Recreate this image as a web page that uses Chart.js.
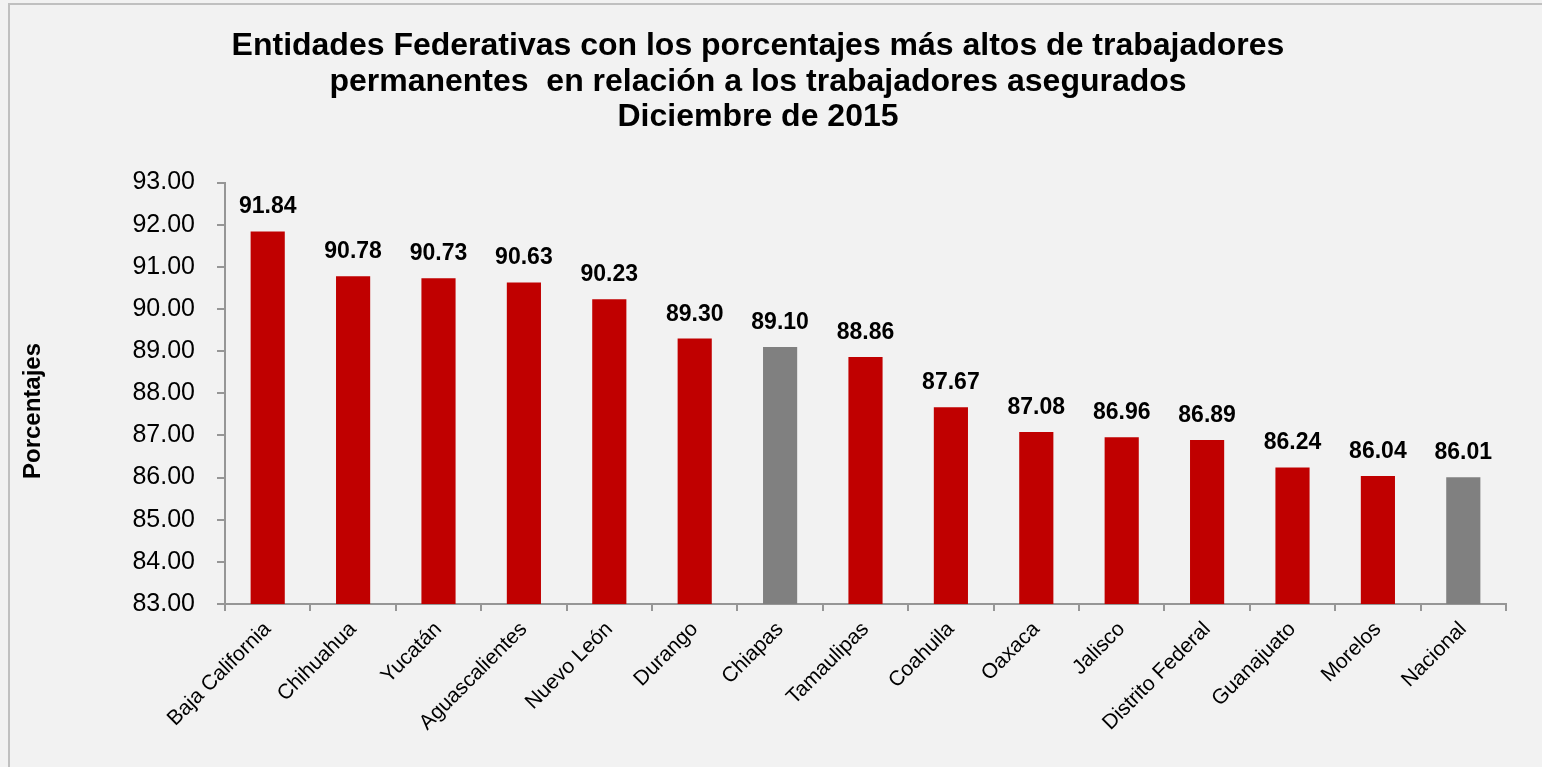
<!DOCTYPE html>
<html>
<head>
<meta charset="utf-8">
<script src="https://cdn.jsdelivr.net/npm/chart.js@4/dist/chart.umd.min.js"></script>
<style>
html,body{margin:0;padding:0;background:#f2f2f2;}
#wrap{position:relative;width:1542px;height:767px;}
</style>
</head>
<body>
<div id="wrap"><canvas id="c" width="1542" height="767"></canvas></div>
<script>
const categories = ["Baja California","Chihuahua","Yucatán","Aguascalientes","Nuevo León","Durango","Chiapas","Tamaulipas","Coahuila","Oaxaca","Jalisco","Distrito Federal","Guanajuato","Morelos","Nacional"];
const values = [91.84,90.78,90.73,90.63,90.23,89.30,89.10,88.86,87.67,87.08,86.96,86.89,86.24,86.04,86.01];
const highlighted = ["Chiapas","Nacional"];
const titleLines = ["Entidades Federativas con los porcentajes más altos de trabajadores","permanentes  en relación a los trabajadores asegurados","Diciembre de 2015"];
const yAxisTitle = "Porcentajes";
const yMin = 83, yMax = 93, yStep = 1;

const RED = "#C00000", GRAY = "#808080";
const barColors = categories.map(c => highlighted.includes(c) ? GRAY : RED);
const FONT = "'Liberation Sans', Arial, sans-serif";

const bgPlugin = {
  id: 'bg',
  beforeDraw(chart) {
    const ctx = chart.ctx;
    ctx.save();
    ctx.fillStyle = '#f2f2f2';
    ctx.fillRect(0, 0, chart.width, chart.height);
    ctx.fillStyle = '#c0c0c0';
    ctx.fillRect(8, 3, chart.width - 8, 2);
    ctx.fillRect(8, 3, 2, chart.height - 3);
    ctx.restore();
  }
};

const labelPlugin = {
  id: 'vals',
  afterDatasetsDraw(chart) {
    const ctx = chart.ctx;
    const meta = chart.getDatasetMeta(0);
    ctx.save();
    ctx.font = "bold 23px " + FONT;
    ctx.fillStyle = '#000';
    ctx.textAlign = 'center';
    ctx.textBaseline = 'alphabetic';
    meta.data.forEach((bar, i) => {
      ctx.fillText(values[i].toFixed(2), bar.x, bar.y - 18);
    });
    // y axis title
    ctx.font = "bold 24px " + FONT;
    ctx.textBaseline = 'middle';
    ctx.translate(33, 411);
    ctx.rotate(-Math.PI / 2);
    ctx.fillText(yAxisTitle, 0, 0);
    ctx.restore();
  }
};

new Chart(document.getElementById('c'), {
  type: 'bar',
  data: {
    labels: categories,
    datasets: [{
      data: values,
      backgroundColor: barColors,
      borderWidth: 0,
      barPercentage: 0.4,
      categoryPercentage: 1.0
    }]
  },
  options: {
    responsive: false,
    animation: false,
    devicePixelRatio: 1,
    layout: { padding: { left: 10, right: 36, top: 20, bottom: 0 } },
    plugins: {
      legend: { display: false },
      tooltip: { enabled: false },
      title: {
        display: true,
        text: titleLines,
        color: '#000',
        font: { family: FONT, size: 32, weight: 'bold', lineHeight: 1.1 },
        padding: { top: 9, bottom: 48 }
      }
    },
    scales: {
      x: {
        afterFit(scale) { scale.height = 163; },
        grid: { display: true, drawOnChartArea: false, drawTicks: true, tickLength: 7, color: '#969696', lineWidth: 2, offset: true },
        border: { display: true, color: '#969696', width: 2 },
        ticks: {
          color: '#000',
          font: { family: FONT, size: 21 },
          maxRotation: 45, minRotation: 45,
          autoSkip: false,
          padding: 6
        }
      },
      y: {
        min: yMin, max: yMax,
        afterFit(scale) { scale.width = 215; },
        grid: { display: true, drawOnChartArea: false, drawTicks: true, tickLength: 8, color: '#969696', lineWidth: 2 },
        border: { display: true, color: '#969696', width: 2 },
        ticks: {
          stepSize: yStep,
          color: '#000',
          font: { family: FONT, size: 25 },
          padding: 22,
          callback: v => Number(v).toFixed(2)
        }
      }
    }
  },
  plugins: [bgPlugin, labelPlugin]
});
</script>
</body>
</html>
